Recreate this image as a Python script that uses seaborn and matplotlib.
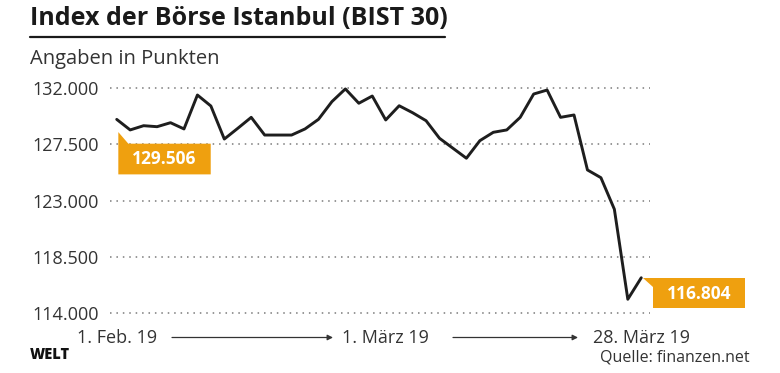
import numpy as np
import pandas as pd
import matplotlib
matplotlib.use("Agg")
import matplotlib.pyplot as plt
import matplotlib.transforms as mtransforms
from matplotlib.patches import Polygon, FancyArrowPatch
from matplotlib.lines import Line2D
from matplotlib.ticker import FuncFormatter
import seaborn as sns

# BIST 30 closing values, trading days 1 Feb 2019 - 28 Mar 2019
values = [129506, 128660, 129000, 128920, 129240, 128740, 131460, 130580, 127930, 128790,
          129670, 128250, 128250, 128250, 128740, 129510, 130930, 131950, 130800, 131380,
          129460, 130600, 130040, 129400, 127990, 127190, 126390, 127800, 128470, 128660,
          129670, 131540, 131860, 129670, 129860, 125450, 124830, 122300, 115080, 116804]
y_ticks = [114000, 118500, 123000, 127500, 132000]
date_labels = ["1. Feb. 19", "1. März 19", "28. März 19"]
date_positions = [0, 20, 39]

df = pd.DataFrame({"day": np.arange(len(values)), "value": values})

sns.set_theme(style="white")
plt.rcParams["font.family"] = ["Open Sans", "DejaVu Sans"]

W, H = 780, 373
fig = plt.figure(figsize=(W / 100, H / 100), dpi=100)
fig.patch.set_facecolor("white")

def fx(px):
    return px / W

def fy(py):
    return 1 - py / H

# axes placed so that the grid runs x 110..650 px, 132.000 at y 88 and 114.000 at y 313
ax = fig.add_axes([fx(110), fy(315.2), fx(650) - fx(110), fy(85.8) - fy(315.2)])
ax.set_facecolor("white")

sns.lineplot(data=df, x="day", y="value", color="#1e1e1e", linewidth=2.1, ax=ax, zorder=3)

ax.set_xlim(-0.5, len(values) - 1 + 0.65)
ax.set_ylim(113800, 132200)
ax.set_yticks(y_ticks)
ax.yaxis.set_major_formatter(FuncFormatter(lambda v, p: f"{v:,.0f}".replace(",", ".")))
ax.set_xticks([])
ax.set_xlabel("")
ax.set_ylabel("")
ax.tick_params(axis="y", length=0, pad=8, labelsize=13, labelcolor="#333333")
for s in ax.spines.values():
    s.set_visible(False)
ax.yaxis.grid(True, linestyle=(0, (1, 3.2)), color="#7a7a7a", linewidth=1.1)
ax.set_axisbelow(True)

# orange value flags attached to first and last points
orange = "#EFA00F"
px_off = mtransforms.Affine2D()  # offsets given in pixels

def flag(idx, verts, text_off):
    tr = px_off + mtransforms.ScaledTranslation(df["day"][idx], df["value"][idx], ax.transData)
    ax.add_patch(Polygon(verts, closed=True, facecolor=orange, edgecolor="none",
                         transform=tr, clip_on=False, zorder=4))
    ax.text(text_off[0], text_off[1], f"{values[idx]:,.0f}".replace(",", "."), transform=tr,
            ha="center", va="center", color="white", fontsize=12.5, fontweight="bold",
            zorder=5, clip_on=False)

flag(0, [(1.6, -12.7), (11.6, -24.3), (94, -24.3), (94, -55), (1.6, -55)], (47.8, -40))
flag(len(values) - 1, [(2, 0), (103.7, 0), (103.7, -30.6), (11.4, -30.6), (11.4, -9)], (57.6, -16))

# date labels under the chart, centred on their trading days
blend = mtransforms.blended_transform_factory(ax.transData, fig.transFigure)
for pos, lab in zip(date_positions, date_labels):
    ax.text(pos, fy(343), lab, transform=blend, ha="center", va="baseline",
            fontsize=13, color="#333333", clip_on=False)
for x0, x1 in [(172, 333), (453, 578)]:
    fig.add_artist(FancyArrowPatch(
        (fx(x0), fy(337.5)), (fx(x1), fy(337.5)), transform=fig.transFigure,
        arrowstyle="-|>", mutation_scale=8, linewidth=0.9, color="#333333",
        shrinkA=0, shrinkB=0))

# header
fig.text(fx(30), fy(25), "Index der Börse Istanbul (BIST 30)", ha="left", va="baseline",
         fontsize=18, fontweight="bold", color="#1a1a1a")
fig.add_artist(Line2D([fx(30), fx(445)], [fy(36.5), fy(36.5)], color="#1a1a1a",
                      linewidth=1.6, transform=fig.transFigure))
fig.text(fx(30), fy(64), "Angaben in Punkten", ha="left", va="baseline",
         fontsize=14.5, color="#333333")

# footer
fig.text(fx(30), fy(359), "WELT", ha="left", va="baseline", fontsize=10.5,
         fontweight="heavy", color="#111111")
fig.text(fx(750), fy(361), "Quelle: finanzen.net", ha="right", va="baseline",
         fontsize=11.5, color="#333333")

fig.savefig("out.png", dpi=100, facecolor="white")
